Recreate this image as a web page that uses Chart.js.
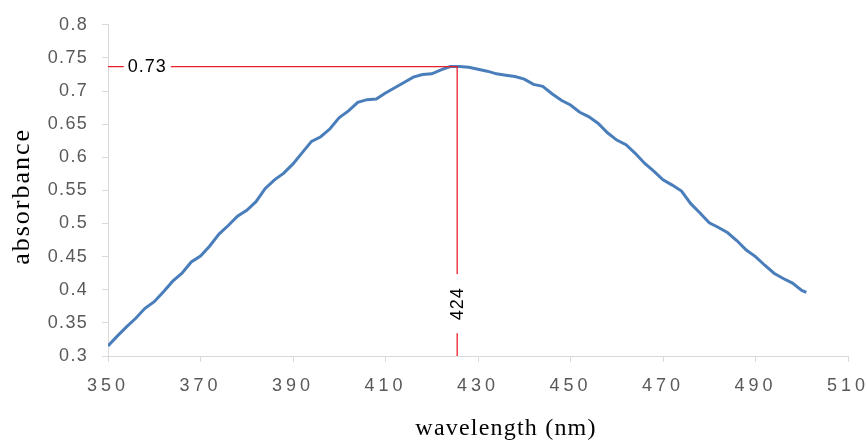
<!DOCTYPE html>
<html>
<head>
<meta charset="utf-8">
<script src="https://cdn.jsdelivr.net/npm/chart.js@4/dist/chart.umd.min.js"></script>
<style>
  html, body { margin: 0; padding: 0; background: #fff; }
</style>
</head>
<body>
<canvas id="myChart" width="867" height="445"></canvas>
<script>
const ctx = document.getElementById('myChart');

// wavelength (nm), every 2 nm
const wavelengths = [
  350, 352, 354, 356, 358, 360, 362, 364, 366, 368,
  370, 372, 374, 376, 378, 380, 382, 384, 386, 388,
  390, 392, 394, 396, 398, 400, 402, 404, 406, 408,
  410, 412, 414, 416, 418, 420, 422, 424, 426, 428,
  430, 432, 434, 436, 438, 440, 442, 444, 446, 448,
  450, 452, 454, 456, 458, 460, 462, 464, 466, 468,
  470, 472, 474, 476, 478, 480, 482, 484, 486, 488,
  490, 492, 494, 496, 498, 500, 501
];
const absorbance = [
  0.315, 0.330, 0.344, 0.357, 0.372, 0.382, 0.397, 0.413, 0.425, 0.442,
  0.451, 0.466, 0.484, 0.497, 0.511, 0.520, 0.533, 0.553, 0.566, 0.576,
  0.590, 0.607, 0.624, 0.631, 0.643, 0.660, 0.670, 0.683, 0.687, 0.688,
  0.697, 0.705, 0.713, 0.721, 0.725, 0.726, 0.732, 0.737, 0.737, 0.736,
  0.733, 0.730, 0.726, 0.724, 0.722, 0.718, 0.710, 0.707, 0.696, 0.686,
  0.679, 0.668, 0.661, 0.651, 0.637, 0.626, 0.619, 0.606, 0.591, 0.579,
  0.566, 0.558, 0.549, 0.530, 0.516, 0.501, 0.494, 0.486, 0.474, 0.460,
  0.450, 0.437, 0.425, 0.417, 0.410, 0.399, 0.396
];

// peak marker lines
const peakX = 425.5;
const peakY = 0.737;
const peakXLabel = '424';
const peakYLabel = '0.73';

const xTitle = 'wavelength (nm)';
const yTitle = 'absorbance';

const curve = wavelengths.map((w, i) => ({ x: w, y: absorbance[i] }));

// wider letter spacing on the tick labels (excel look)
const spacedTicks = {
  id: 'spacedTicks',
  beforeDraw(chart) {
    [['x', '4px'], ['y', '1.3px']].forEach(([id, sp]) => {
      const s = chart.scales[id];
      if (s._spaced) return;
      const orig = s.drawLabels;
      s.drawLabels = function (area) {
        this.ctx.save();
        this.ctx.letterSpacing = sp;
        orig.call(this, area);
        this.ctx.restore();
      };
      s._spaced = true;
    });
  }
};

// labels on the red lines + axis titles
const markerText = {
  id: 'markerText',
  afterDatasetsDraw(chart) {
    const c = chart.ctx;
    const xs = chart.scales.x, ys = chart.scales.y;
    c.save();
    c.font = '18px "Liberation Sans", Arial, sans-serif';
    c.letterSpacing = '1px';
    c.textAlign = 'center';
    c.textBaseline = 'middle';

    // "0.73" sitting on the horizontal line
    let px = xs.getPixelForValue(358.5), py = ys.getPixelForValue(peakY);
    let w = c.measureText(peakYLabel).width + 8;
    c.fillStyle = '#fff';
    c.fillRect(px - w / 2, py - 9, w, 18);
    c.fillStyle = '#000';
    c.fillText(peakYLabel, px, py + 1);

    // "424" rotated on the vertical line
    px = xs.getPixelForValue(peakX); py = ys.getPixelForValue(0.379);
    c.translate(px, py);
    c.rotate(-Math.PI / 2);
    w = c.measureText(peakXLabel).width + 26;
    c.fillStyle = '#fff';
    c.fillRect(-w / 2, -9, w, 18);
    c.fillStyle = '#000';
    c.fillText(peakXLabel, 0, 1);
    c.restore();

    // axis titles
    const a = chart.chartArea;
    c.save();
    c.fillStyle = '#000';
    c.textAlign = 'center';
    c.textBaseline = 'middle';
    c.font = '24px "Liberation Serif", "Times New Roman", serif';
    c.letterSpacing = '1.2px';
    c.fillText(xTitle, (a.left + a.right) / 2 + 28, 429);
    c.font = '26px "Liberation Serif", "Times New Roman", serif';
    c.letterSpacing = '2px';
    c.translate(22, (a.top + a.bottom) / 2 + 6);
    c.rotate(-Math.PI / 2);
    c.fillText(yTitle, 0, 0);
    c.restore();
  }
};

const axisColor = '#d9d9d9';
const tickFont = { family: '"Liberation Sans", Arial, sans-serif', size: 18 };

new Chart(ctx, {
  type: 'line',
  data: {
    datasets: [
      {
        label: 'absorbance',
        data: curve,
        borderColor: '#4a7ebb',
        borderWidth: 3,
        pointRadius: 0,
        tension: 0,
        order: 2
      },
      {
        label: 'peak-h',
        data: [{ x: 350, y: peakY }, { x: peakX, y: peakY }],
        borderColor: '#e8202a',
        borderWidth: 1.3,
        pointRadius: 0,
        order: 1
      },
      {
        label: 'peak-v',
        data: [{ x: peakX, y: peakY }, { x: peakX, y: 0.3 }],
        borderColor: '#e8202a',
        borderWidth: 1.3,
        pointRadius: 0,
        order: 1
      }
    ]
  },
  options: {
    responsive: false,
    animation: false,
    layout: { padding: { top: 22, right: 0, bottom: 0, left: 0 } },
    plugins: {
      legend: { display: false },
      tooltip: { enabled: false }
    },
    scales: {
      x: {
        type: 'linear',
        min: 350,
        max: 510,
        afterFit: (s) => { s.height = 89; s.paddingLeft = 0; s.paddingRight = 19; },
        ticks: {
          stepSize: 20,
          color: '#595959',
          font: tickFont,
          padding: 13,
          maxRotation: 0
        },
        grid: {
          drawOnChartArea: false,
          color: axisColor,
          tickColor: axisColor,
          tickLength: 6
        },
        border: { color: axisColor, width: 1 }
      },
      y: {
        min: 0.3,
        max: 0.8,
        afterFit: (s) => { s.width = 108; },
        ticks: {
          stepSize: 0.05,
          color: '#595959',
          font: tickFont,
          padding: 14,
          callback: (v) => String(+v.toFixed(2))
        },
        grid: {
          drawOnChartArea: false,
          color: axisColor,
          tickColor: axisColor,
          tickLength: 6
        },
        border: { color: axisColor, width: 1 }
      }
    }
  },
  plugins: [spacedTicks, markerText]
});
</script>
</body>
</html>
